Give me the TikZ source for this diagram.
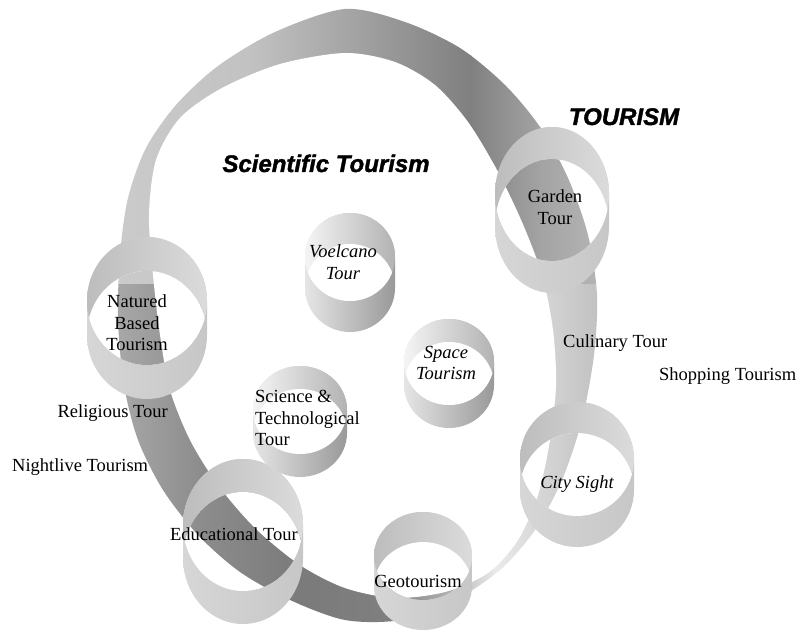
\documentclass[tikz,border=0pt]{standalone}
\usepackage{fontspec}
\setmainfont{Liberation Serif}[ItalicFont={Liberation Serif Italic}]
\newfontfamily\headfont[BoldItalicFeatures={FakeBold=1.5}]{Liberation Sans}

% outline of the big ribbon
\newcommand{\bandouter}{plot[smooth cycle] coordinates {(345,9) (405,22) (460,48) (505,85) (540,127) (568,178) (588,235) (597,295) (594,355) (582,420) (562,480) (535,530) (500,570) (455,600) (400,620) (345,620) (290,600) (240,572) (198,535) (163,490) (138,440) (124,385) (118,320) (120,255) (128,198) (146,148) (176,105) (218,66) (275,32)}}
\newcommand{\bandinner}{plot[smooth cycle] coordinates {(345,53) (395,62) (435,85) (468,122) (497,170) (522,222) (542,275) (553,330) (556,385) (550,440) (538,495) (518,540) (488,573) (445,592) (395,598) (345,588) (300,565) (255,528) (218,485) (190,440) (170,390) (160,335) (153,275) (149,215) (156,160) (180,118) (222,88) (280,64)}}

% the ribbon with its grey shades, also redrawn inside the tubes lying on it
\newcommand{\bandfill}{%
\begin{scope}
\clip \bandouter;
\shade[left color=black!20, right color=black!24] (100,0) rectangle (251,285);
\shade[left color=black!24, right color=black!38] (250,0) rectangle (371,285);
\shade[left color=black!38, right color=black!50] (370,0) rectangle (471,285);
\shade[left color=black!50, right color=black!36] (470,0) rectangle (541,285);
\shade[left color=black!36, right color=black!28] (540,0) rectangle (610,285);
\shade[left color=black!32, right color=black!45] (100,285) rectangle (201,640);
\shade[left color=black!45, right color=black!52] (200,285) rectangle (301,640);
\shade[left color=black!52, right color=black!50] (300,285) rectangle (391,640);
\shade[left color=black!50, right color=black!30] (390,285) rectangle (451,640);
\shade[left color=black!30, right color=black!8] (450,285) rectangle (496,640);
\shade[left color=black!8, right color=black!16] (495,285) rectangle (541,640);
\shade[left color=black!16, right color=black!26] (540,285) rectangle (610,640);
\fill[white] \bandinner;
\end{scope}}

% \tube{x}{y top rim}{y bottom rim}{x radius}{y radius}{seen through the hole}
\newcommand{\tube}[6]{%
\shade[tubewall]
  (#1-#4,#2) -- (#1-#4,#3) arc[start angle=180, end angle=0, x radius=#4, y radius=#5]
  -- (#1+#4,#2) arc[start angle=0, end angle=-180, x radius=#4, y radius=#5] -- cycle;
\shade[tubeback] (#1,#2) ellipse[x radius=#4, y radius=#5];
\begin{scope}
\clip (#1,#2) ellipse[x radius=#4, y radius=#5];
\clip (#1,#3) ellipse[x radius=#4, y radius=#5];
\fill[white] (#1-#4,#2-#5) rectangle (#1+#4,#3+#5);
#6
\end{scope}}

\begin{document}
\begin{tikzpicture}[x=1pt, y=-1pt,
  tubewall/.style={left color=black!10, middle color=black!18, right color=black!40},
  tubeback/.style={left color=black!4, middle color=black!12, right color=black!30},
  tourtext/.style={font=\fontsize{18.5}{21.5}\selectfont, inner sep=0pt, align=center},
  tourital/.style={tourtext, font=\fontsize{18.5}{21.5}\selectfont\itshape},
  headtext/.style={font=\headfont\bfseries\itshape\fontsize{24}{28}\selectfont, inner sep=0pt}]
\fill[white] (0,0) rectangle (801,631);
\useasboundingbox (0,0) rectangle (801,631);

\bandfill

% tubes on the ribbon
\begin{scope}[tubewall/.style={left color=black!16, middle color=black!8, right color=black!22},
  tubeback/.style={left color=black!26, middle color=black!42, right color=black!14}]
\tube{552}{194}{226}{57}{67}{\bandfill}
\tube{147}{301}{335}{60}{64}{\bandfill}
\tube{577}{459}{490}{57}{57}{\bandfill}
\tube{243}{525}{558}{60}{66}{\bandfill}
\tube{423}{556}{586}{49}{44}{\bandfill}
\end{scope}
% tubes inside
\tube{350}{257}{288}{45}{44}{}
\tube{449}{362}{385}{45}{43}{}
\tube{300}{410}{433}{47}{44}{}

\node[headtext, anchor=base] (tourism) at (624,125) {TOURISM};
\node[headtext, anchor=base] (scientific) at (326,172) {Scientific Tourism};

\node[tourtext] (garden) at (555,207) {Garden\\Tour};
\node[tourital] (voelcano) at (343,262) {Voelcano\\Tour};
\node[tourtext] (natured) at (137,323) {Natured\\Based\\Tourism};
\node[tourital] (space) at (446,363) {Space\\Tourism};
\node[tourtext, align=left, anchor=west] (science) at (255,418) {Science \&\\Technological\\Tour};
\node[tourital, anchor=base] (city) at (577,488) {City Sight};
\node[tourtext, anchor=base] (educational) at (234,540) {Educational Tour};
\node[tourtext, anchor=base] (geo) at (418,587) {Geotourism};

\node[tourtext, anchor=base west] (culinary) at (563,347) {Culinary Tour};
\node[tourtext, anchor=base west] (shopping) at (659,380) {Shopping Tourism};
\node[tourtext, anchor=base east] (religious) at (168,417) {Religious Tour};
\node[tourtext, anchor=base west] (nightlive) at (12,471) {Nightlive Tourism};
\end{tikzpicture}
\end{document}
